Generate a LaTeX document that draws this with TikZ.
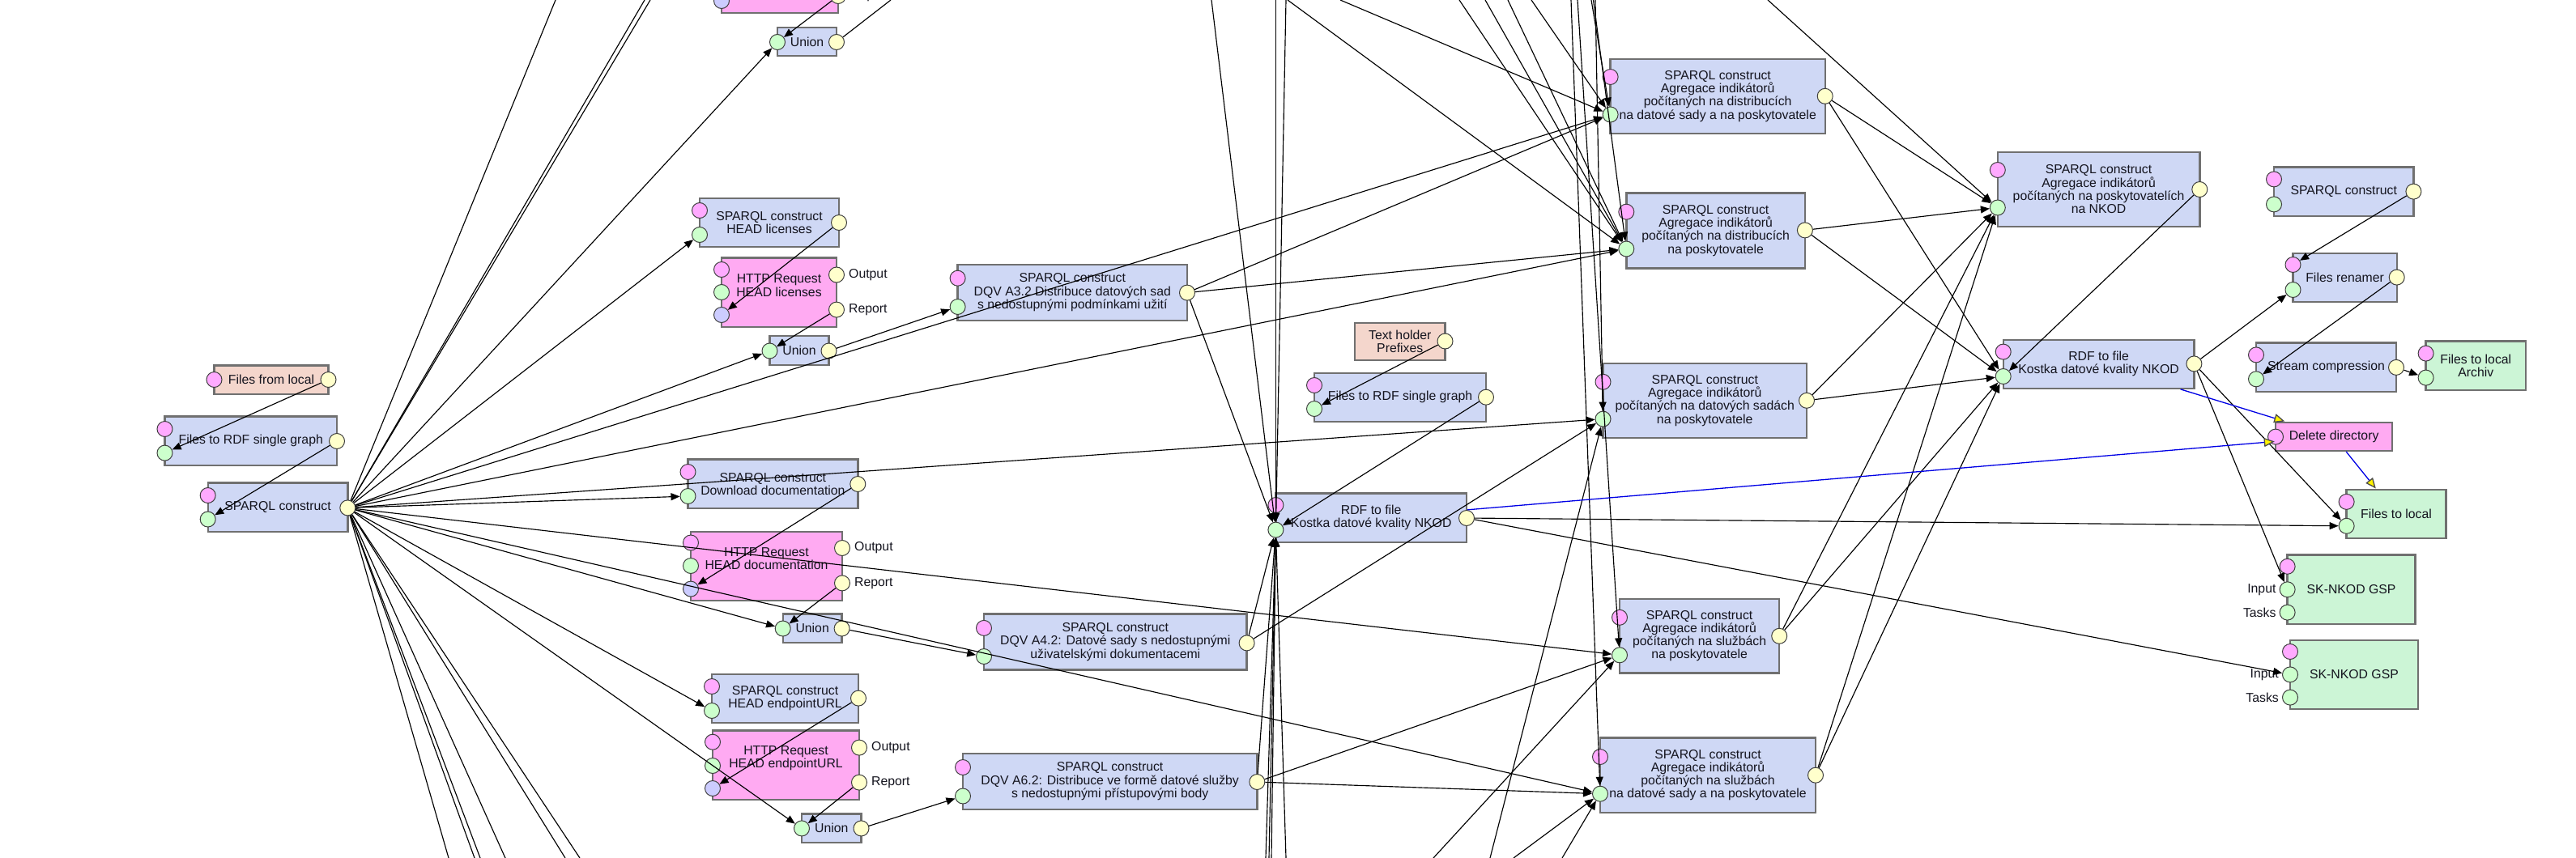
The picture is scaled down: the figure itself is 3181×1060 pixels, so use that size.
\documentclass[tikz,border=0pt]{standalone}
\usepackage{fontspec}
\setmainfont{Liberation Sans}
\usetikzlibrary{arrows.meta}
\definecolor{bfill}{RGB}{207,216,245}
\definecolor{pfill}{RGB}{255,170,242}
\definecolor{sfill}{RGB}{244,214,204}
\definecolor{gfill}{RGB}{204,245,214}
\definecolor{pport}{RGB}{255,170,255}
\definecolor{gport}{RGB}{204,255,204}
\definecolor{yport}{RGB}{255,255,204}
\definecolor{bport}{RGB}{204,204,255}
\definecolor{bordc}{RGB}{112,112,112}
\definecolor{txtc}{RGB}{20,20,30}
\newcommand\bfont{\fontsize{15.8}{16.3}\selectfont}
\newcommand\mkbox[7]{\node[box,fill=#6,minimum width={(#4)-(#2)},minimum height={(#5)-(#3)}] (#1) at ({((#2)+(#4))/2},{((#3)+(#5))/2}) {#7};}
\newcommand\mkport[4]{\node[port,fill=#4] (#1) at (#2,#3) {};}
\tikzset{
  box/.style={draw=bordc,line width=2.4pt,rectangle,inner sep=0pt,align=center,font=\bfont,text=txtc},
  port/.style={circle,draw=black!75,line width=1pt,minimum size=19pt,inner sep=0pt},
  plbl/.style={font=\bfont,inner sep=0pt,text=txtc},
  txtn/.style={font=\bfont,align=center,inner sep=0pt,text=txtc},
  ln/.style={line width=1.15pt,draw=black},
  arr/.style={ln,-{Triangle[length=11pt,width=9pt]}},
  runafter/.style={draw=blue!90!black,line width=1.3pt,-{Triangle[length=13pt,width=11pt,color=black!70,fill=yellow]}},
}
\begin{document}
\begin{tikzpicture}[x=1pt,y=-1pt]
\useasboundingbox (0,0) rectangle (3181,1060);
\clip (0,0) rectangle (3181,1060);
\fill[white] (0,0) rectangle (3181,1060);
% ---------- left column
\mkbox{flocal}{264.5}{451.5}{405.5}{487}{sfill}{Files from local}
\mkport{flocal-p}{264.5}{469}{pport}\mkport{flocal-y}{405.5}{469}{yport}
\mkbox{ftrdf}{203.5}{514.5}{416}{575}{bfill}{Files to RDF single graph}
\mkport{ftrdf-p}{203.5}{530}{pport}\mkport{ftrdf-g}{203.5}{559.6}{gport}\mkport{ftrdf-y}{416}{545}{yport}
\mkbox{sp0}{256.7}{596.4}{429.3}{657}{bfill}{SPARQL construct}
\mkport{sp0-p}{256.7}{612}{pport}\mkport{sp0-g}{256.7}{641.5}{gport}\mkport{sp0-y}{429.3}{627.4}{yport}
% ---------- second column
\mkbox{htop}{891}{-69}{1035}{16}{pfill}{}
\mkport{htop-p}{891}{-55}{pport}\mkport{htop-g}{891}{-27}{gport}\mkport{htop-b}{891}{1}{bport}
\mkport{htop-o}{1035}{-48}{yport}\mkport{htop-r}{1035}{-5}{yport}
\node[plbl,anchor=west] (htop-rL) at ([xshift=5pt]htop-r.east) {Report};
\mkbox{utop}{960}{34}{1033}{69}{bfill}{Union}
\mkport{utop-g}{960}{52}{gport}\mkport{utop-y}{1033}{52}{yport}
\mkbox{slic}{864}{245}{1036}{305}{bfill}{SPARQL construct\\HEAD licenses}
\mkport{slic-p}{864}{260}{pport}\mkport{slic-g}{864}{290}{gport}\mkport{slic-y}{1036}{275}{yport}
\mkbox{hlic}{891}{318.5}{1033}{404}{pfill}{}
\node[txtn] (hlic-t) at (962,352.5) {HTTP Request\\HEAD licenses};
\mkport{hlic-p}{891}{333}{pport}\mkport{hlic-g}{891}{361}{gport}\mkport{hlic-b}{891}{389}{bport}
\mkport{hlic-o}{1033}{339.5}{yport}\mkport{hlic-r}{1033}{382.6}{yport}
\node[plbl,anchor=west] (hlic-oL) at ([xshift=5pt]hlic-o.east) {Output};
\node[plbl,anchor=west] (hlic-rL) at ([xshift=5pt]hlic-r.east) {Report};
\mkbox{ulic}{950.5}{415}{1023.5}{451}{bfill}{Union}
\mkport{ulic-g}{950.5}{433.5}{gport}\mkport{ulic-y}{1023.5}{433.5}{yport}
\mkbox{sdoc}{849.5}{567.5}{1059.3}{628}{bfill}{SPARQL construct\\Download documentation}
\mkport{sdoc-p}{849.5}{583}{pport}\mkport{sdoc-g}{849.5}{613}{gport}\mkport{sdoc-y}{1059.3}{598}{yport}
\mkbox{hdoc}{853}{657}{1040}{742}{pfill}{}
\node[txtn] (hdoc-t) at (946.5,690) {HTTP Request\\HEAD documentation};
\mkport{hdoc-p}{853}{670.5}{pport}\mkport{hdoc-g}{853}{699}{gport}\mkport{hdoc-b}{853}{727.6}{bport}
\mkport{hdoc-o}{1040}{677}{yport}\mkport{hdoc-r}{1040}{720.4}{yport}
\node[plbl,anchor=west] (hdoc-oL) at ([xshift=5pt]hdoc-o.east) {Output};
\node[plbl,anchor=west] (hdoc-rL) at ([xshift=5pt]hdoc-r.east) {Report};
\mkbox{udoc}{966.7}{758.6}{1039.6}{794}{bfill}{Union}
\mkport{udoc-g}{966.7}{776.5}{gport}\mkport{udoc-y}{1039.6}{776.5}{yport}
\mkbox{sep}{879}{832.7}{1060}{893}{bfill}{SPARQL construct\\HEAD endpointURL}
\mkport{sep-p}{879}{848}{pport}\mkport{sep-g}{879}{878}{gport}\mkport{sep-y}{1060}{862.6}{yport}
\mkbox{hep}{880}{902.6}{1061}{988}{pfill}{}
\node[txtn] (hep-t) at (970.5,936.6) {HTTP Request\\HEAD endpointURL};
\mkport{hep-p}{880}{916.7}{pport}\mkport{hep-g}{880}{946}{gport}\mkport{hep-b}{880}{974}{bport}
\mkport{hep-o}{1061}{923.6}{yport}\mkport{hep-r}{1061}{966.6}{yport}
\node[plbl,anchor=west] (hep-oL) at ([xshift=5pt]hep-o.east) {Output};
\node[plbl,anchor=west] (hep-rL) at ([xshift=5pt]hep-r.east) {Report};
\mkbox{uep}{990}{1005.5}{1063.5}{1041}{bfill}{Union}
\mkport{uep-g}{990}{1023.4}{gport}\mkport{uep-y}{1063.5}{1023.4}{yport}
% ---------- DQV column
\mkbox{d32}{1182.6}{326.8}{1466}{396}{bfill}{SPARQL construct\\DQV A3.2 Distribuce datových sad\\s nedostupnými podmínkami užití}
\mkport{d32-p}{1182.6}{343.7}{pport}\mkport{d32-g}{1182.6}{379}{gport}\mkport{d32-y}{1466}{361.6}{yport}
\mkbox{d42}{1215}{758.6}{1539.6}{827.5}{bfill}{SPARQL construct\\DQV A4.2: Datové sady s nedostupnými\\uživatelskými dokumentacemi}
\mkport{d42-p}{1215}{775.9}{pport}\mkport{d42-g}{1215}{811}{gport}\mkport{d42-y}{1539.6}{794.4}{yport}
\mkbox{d62}{1189}{930.8}{1552.3}{999.7}{bfill}{SPARQL construct\\DQV A6.2: Distribuce ve formě datové služby\\s nedostupnými přístupovými body}
\mkport{d62-p}{1189}{948}{pport}\mkport{d62-g}{1189}{983.5}{gport}\mkport{d62-y}{1552.3}{966}{yport}
% ---------- middle
\mkbox{thold}{1673}{398.8}{1784.5}{445}{sfill}{Text holder\\Prefixes}
\mkport{thold-y}{1784.5}{421.5}{yport}
\mkbox{ftrdf2}{1623}{460.7}{1835}{521}{bfill}{Files to RDF single graph}
\mkport{ftrdf2-p}{1623}{476}{pport}\mkport{ftrdf2-g}{1623}{505}{gport}\mkport{ftrdf2-y}{1835}{490.7}{yport}
\mkbox{rdfm}{1575.4}{609.5}{1811}{670}{bfill}{RDF to file\\Kostka datové kvality NKOD}
\mkport{rdfm-p}{1575.4}{624}{pport}\mkport{rdfm-g}{1575.4}{654.6}{gport}\mkport{rdfm-y}{1811}{640}{yport}
% ---------- Agregace column
\mkbox{a1}{1988.6}{72.7}{2253.7}{165}{bfill}{SPARQL construct\\Agregace indikátorů\\počítaných na distribucích\\na datové sady a na poskytovatele}
\mkport{a1-p}{1988.6}{95}{pport}\mkport{a1-g}{1988.6}{141.5}{gport}\mkport{a1-y}{2253.7}{118.8}{yport}
\mkbox{a2}{2008.3}{238.6}{2228.9}{331.3}{bfill}{SPARQL construct\\Agregace indikátorů\\počítaných na distribucích\\na poskytovatele}
\mkport{a2-p}{2008.3}{261.7}{pport}\mkport{a2-g}{2008.3}{307.5}{gport}\mkport{a2-y}{2228.9}{284.4}{yport}
\mkbox{a3}{1979.5}{449}{2231}{540.7}{bfill}{SPARQL construct\\Agregace indikátorů\\počítaných na datových sadách\\na poskytovatele}
\mkport{a3-p}{1979.5}{471.8}{pport}\mkport{a3-g}{1979.5}{517.6}{gport}\mkport{a3-y}{2231}{494.8}{yport}
\mkbox{a4}{2000}{739.7}{2197.2}{831.6}{bfill}{SPARQL construct\\Agregace indikátorů\\počítaných na službách\\na poskytovatele}
\mkport{a4-p}{2000}{762.8}{pport}\mkport{a4-g}{2000}{809.3}{gport}\mkport{a4-y}{2197.2}{785.8}{yport}
\mkbox{a5}{1976}{911.5}{2242}{1003.8}{bfill}{SPARQL construct\\Agregace indikátorů\\počítaných na službách\\na datové sady a na poskytovatele}
\mkport{a5-p}{1976}{935}{pport}\mkport{a5-g}{1976}{980.7}{gport}\mkport{a5-y}{2242}{957.7}{yport}
% ---------- NKOD column
\mkbox{nkod}{2466.8}{187.7}{2716.3}{280}{bfill}{SPARQL construct\\Agregace indikátorů\\počítaných na poskytovatelích\\na NKOD}
\mkport{nkod-p}{2466.8}{210}{pport}\mkport{nkod-g}{2466.8}{256.5}{gport}\mkport{nkod-y}{2716.3}{234}{yport}
\mkbox{rdfr}{2473.7}{419.8}{2709.4}{479.7}{bfill}{RDF to file\\Kostka datové kvality NKOD}
\mkport{rdfr-p}{2473.7}{434.6}{pport}\mkport{rdfr-g}{2473.7}{465}{gport}\mkport{rdfr-y}{2709.4}{449.4}{yport}
% ---------- right column
\mkbox{spr}{2808}{206.6}{2980.4}{267}{bfill}{SPARQL construct}
\mkport{spr-p}{2808}{221.4}{pport}\mkport{spr-g}{2808}{252.4}{gport}\mkport{spr-y}{2980.4}{236.6}{yport}
\mkbox{ren}{2831.5}{312.7}{2959.7}{373}{bfill}{Files renamer}
\mkport{ren-p}{2831.5}{327}{pport}\mkport{ren-g}{2831.5}{358}{gport}\mkport{ren-y}{2959.7}{342.6}{yport}
\mkbox{stc}{2786}{423.6}{2959}{483.8}{bfill}{Stream compression}
\mkport{stc-p}{2786}{438.4}{pport}\mkport{stc-g}{2786}{468.3}{gport}\mkport{stc-y}{2959}{453.9}{yport}
\mkbox{arch}{2995.6}{421.5}{3119}{481.7}{gfill}{Files to local\\Archiv}
\mkport{arch-p}{2995.6}{436.6}{pport}\mkport{arch-g}{2995.6}{466.6}{gport}
\mkbox{del}{2810}{521.7}{2954.2}{556.8}{pfill}{Delete directory}
\mkport{del-p}{2810}{539.6}{pport}
\mkbox{ftl}{2897.6}{604.7}{3020.4}{665}{gfill}{Files to local}
\mkport{ftl-p}{2897.6}{619.9}{pport}\mkport{ftl-g}{2897.6}{649.8}{gport}
\mkbox{gsp1}{2824.6}{685.6}{2982.5}{771}{gfill}{SK-NKOD GSP}
\mkport{gsp1-p}{2824.6}{699.8}{pport}\mkport{gsp1-in}{2824.6}{728.3}{gport}\mkport{gsp1-ts}{2824.6}{756.6}{gport}
\node[plbl,anchor=east] (gsp1-inL) at ([xshift=-4pt]gsp1-in.west) {Input};
\node[plbl,anchor=east] (gsp1-tsL) at ([xshift=-4pt]gsp1-ts.west) {Tasks};
\mkbox{gsp2}{2828}{791}{2985.9}{876}{gfill}{SK-NKOD GSP}
\mkport{gsp2-p}{2828}{805}{pport}\mkport{gsp2-in}{2828}{833.4}{gport}\mkport{gsp2-ts}{2828}{861.6}{gport}
\node[plbl,anchor=east] (gsp2-inL) at ([xshift=-4pt]gsp2-in.west) {Input};
\node[plbl,anchor=east] (gsp2-tsL) at ([xshift=-4pt]gsp2-ts.west) {Tasks};
% ---------- free ends at the picture edges
\foreach \n/\x in {t686/686,t796/796,t803/803,t1100/1100,t1496/1496,t1575/1575.4,t1588/1588,t1590/1590,t1655/1655,t1802/1802,t1834/1834,t1862/1862,t1891/1891,t1940/1940,t1948/1948,t1965/1965,t1967/1967.5,t1970/1970,t2183/2183}
  \coordinate (\n) at (\x,0);
\foreach \n/\x in {b554/554,b586/586,b593/593,b624/624,b698/698,b716/716,b1563/1563,b1567/1567,b1570/1570,b1588/1588,b1770/1770,b1840/1840,b1869/1869,b1929/1929}
  \coordinate (\n) at (\x,1060);
% ---------- connectors
\draw[arr] (flocal-y) -- (ftrdf-g);
\draw[arr] (ftrdf-y) -- (sp0-g);
\foreach \t in {t686,t796,t803,b554,b586,b593,b624,b698,b716} \draw[ln] (sp0-y) -- (\t);
\foreach \t in {utop-g,slic-g,ulic-g,a1-g,a2-g,sdoc-g,a3-g,a4-g,udoc-g,a5-g,sep-g,uep-g} \draw[arr] (sp0-y) -- (\t);
\draw[arr] (htop-r) -- (utop-g);
\draw[ln] (utop-y) -- (t1100);
\draw[arr] (slic-y) -- (hlic-b);
\draw[arr] (hlic-r) -- (ulic-g);
\draw[arr] (ulic-y) -- (d32-g);
\draw[arr] (sdoc-y) -- (hdoc-b);
\draw[arr] (hdoc-r) -- (udoc-g);
\draw[arr] (udoc-y) -- (d42-g);
\draw[arr] (sep-y) -- (hep-b);
\draw[arr] (hep-r) -- (uep-g);
\draw[arr] (uep-y) -- (d62-g);
\foreach \t in {a1-g,a2-g,rdfm-g} \draw[arr] (d32-y) -- (\t);
\foreach \t in {rdfm-g,a3-g} \draw[arr] (d42-y) -- (\t);
\foreach \t in {rdfm-g,a4-g,a5-g} \draw[arr] (d62-y) -- (\t);
\draw[arr] (thold-y) -- (ftrdf2-g);
\draw[arr] (ftrdf2-y) -- (rdfm-g);
\foreach \s in {t1496,t1575,t1588,b1563,b1567,b1570,b1588} \draw[arr] (\s) -- (rdfm-g);
\foreach \s/\t in {t1590/a2-g,t1655/a1-g,t1802/a2-g,t1834/a2-g,t1862/a2-g,t1891/a1-g,t1940/a5-g,t1948/a4-g,t1965/a1-g,t1967/a2-g,t1970/a3-g,t2183/nkod-g,b1770/a4-g,b1840/a3-g,b1869/a5-g,b1929/a5-g}
  \draw[arr] (\s) -- (\t);
\draw[arr] (rdfm-y) -- (ftl-g);
\draw[arr] (rdfm-y) -- (gsp2-in);
\foreach \s in {a1-y,a2-y,a3-y,a4-y,a5-y} {\draw[arr] (\s) -- (nkod-g); \draw[arr] (\s) -- (rdfr-g);}
\draw[arr] (nkod-y) -- (rdfr-g);
\draw[arr] (rdfr-y) -- (ren-g);
\draw[arr] (rdfr-y) -- (ftl-g);
\draw[arr] (rdfr-y) -- (gsp1-in);
\draw[arr] (spr-y) -- (ren-p);
\draw[arr] (ren-y) -- (stc-g);
\draw[arr] (stc-y) -- (arch-g);
\draw[runafter] (rdfm) -- (del);
\draw[runafter] (rdfr) -- (del);
\draw[runafter] (del) -- (ftl);
\end{tikzpicture}
\end{document}
